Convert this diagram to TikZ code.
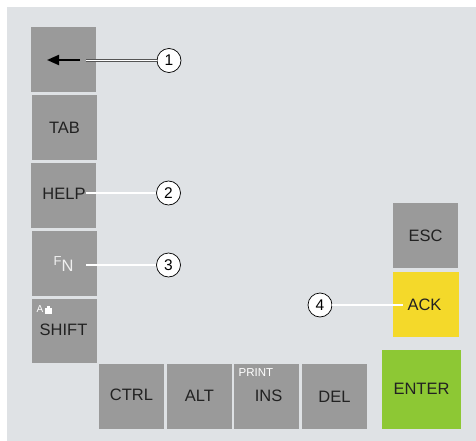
\documentclass[tikz,border=0pt]{standalone}
\usepackage{fontspec}
\setmainfont{Liberation Sans}
\usetikzlibrary{arrows.meta}
\definecolor{bggray}{HTML}{DFE2E5}
\definecolor{keygray}{HTML}{9A9A9A}
\definecolor{ackyellow}{HTML}{F4D92A}
\definecolor{entergreen}{HTML}{8DC834}
\definecolor{txt}{HTML}{222222}
\definecolor{leadgray}{HTML}{555555}
\tikzset{
  key/.style={fill=keygray, draw=none, inner sep=0pt, minimum width=65pt, minimum height=65pt,
    text=txt, font=\fontsize{16.5}{16.5}\selectfont},
  keytext/.style={inner sep=0pt, text=txt, font=\fontsize{16.5}{16.5}\selectfont},
  smallwhite/.style={inner sep=0pt, text=white, font=\fontsize{11.5}{11.5}\selectfont},
  callout/.style={circle, draw=black, line width=0.7pt, fill=white, minimum size=24pt, inner sep=0pt,
    font=\fontsize{15.5}{15.5}\selectfont},
  leader/.style={draw=leadgray, line width=0.7pt, double=white, double distance=1.4pt},
}
\begin{document}
\begin{tikzpicture}[x=1pt,y=-1pt]
\useasboundingbox (0,0) rectangle (476,441);
\fill[white] (0,0) rectangle (476,441);
\fill[bggray] (7,7) rectangle (476,441);
% left column
\node[key] (back) at (63.5,59.5) {};
\node[key] (tab) at (64.5,127.5) {TAB};
\node[key] (help) at (63.5,195.5) {};
\node[keytext] (helptxt) at (64,194) {HELP};
\node[key] (fn) at (64.5,263.5) {};
\node[inner sep=0pt, text=white!94!black] (fntxt) at (63.5,264)
  {\raisebox{1.5pt}{\fontsize{13}{13}\selectfont F}\raisebox{-5pt}{\fontsize{16.5}{16.5}\selectfont N}};
\node[key, minimum height=64pt] (shift) at (64.5,331) {};
\node[keytext] (shifttxt) at (63.5,330) {SHIFT};
\node[inner sep=0pt, text=white, font=\fontsize{10}{10}\selectfont] (atxt) at (40,309.5) {A};
\fill[white] (45,308) rectangle (51.5,313.5);
\fill[white] (46.8,306.3) rectangle (49.7,308);
% arrow on back key
\coordinate (arrs) at (80,60);
\coordinate (arre) at (47,60);
\draw[line width=2pt, black, -{Triangle[length=12pt,width=10pt]}] (arrs) -- (arre);
% bottom row
\node[key] (ctrl) at (131.5,396.5) {};
\node[keytext] at (131.5,394.5) {CTRL};
\node[key] (alt) at (199.5,396.5) {};
\node[keytext] at (199.5,395.5) {ALT};
\node[key] (ins) at (266.5,396.5) {};
\node[keytext] at (268.5,395.5) {INS};
\node[smallwhite, anchor=base west] (print) at (238.5,376.5) {PRINT};
\node[key] (del) at (334.5,396.5) {};
\node[keytext] at (334.5,396.5) {DEL};
\node[key, fill=entergreen, minimum width=79pt, minimum height=79pt] (enter) at (421.5,389.5) {};
\node[keytext] at (421.5,389) {ENTER};
% right column
\node[key] (esc) at (425.5,235.5) {ESC};
\node[key, fill=ackyellow, minimum width=66pt] (ack) at (426,304.5) {};
\node[keytext] (acktxt) at (424.5,304.5) {ACK};
% callouts
\node[callout] (c1) at (169,60.5) {1};
\node[callout] (c2) at (168.5,193) {2};
\node[callout] (c3) at (168.5,265) {3};
\node[callout] (c4) at (320,305) {4};
\coordinate (l1) at (86,60.5);
\coordinate (l3) at (86,265);
\coordinate (l4) at (403,305);
\draw[leader] (l1) -- (c1);
\draw[leader] (helptxt.east |- c2) -- (c2);
\draw[leader] (l3) -- (c3);
\draw[leader] (l4) -- (c4);
\end{tikzpicture}
\end{document}
